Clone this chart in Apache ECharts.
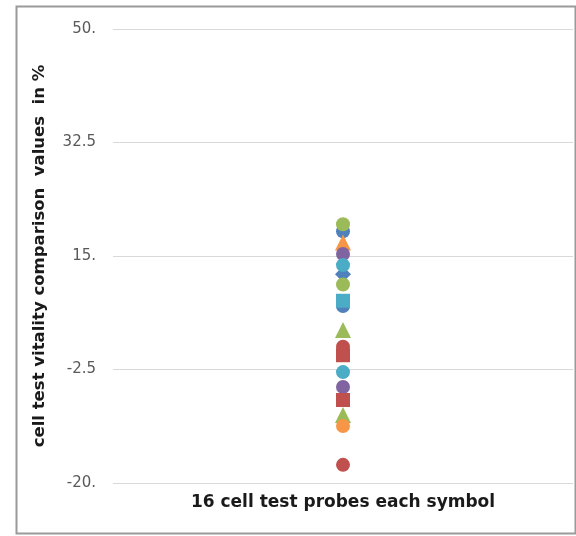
<!DOCTYPE html>
<html>
<head>
<meta charset="utf-8">
<script src="https://cdn.jsdelivr.net/npm/echarts@6/dist/echarts.min.js"></script>
<style>html,body{margin:0;padding:0;background:#fff}#c{width:576px;height:536px}</style>
</head>
<body>
<div id="c"></div>
<script>
// Data
var categories = ['16 cell test probes each symbol'];
var probeValues = [18.8, 19.9, 17.1, 15.3, 12.2, 13.6, 10.6, 7.3, 8.1, 3.6, 1.0, -0.3, -2.9, -5.2, -7.2, -9.5, -11.2, -17.2];
var yTickValues = [-20, -2.5, 15, 32.5, 50];

// Styles (per mark)
var C = {blue:'#4F81BD', red:'#C0504D', green:'#9BBB59', purple:'#8064A2', aqua:'#4BACC6', orange:'#F79646'};
var markerColors = [C.blue, C.green, C.orange, C.purple, C.blue, C.aqua, C.green, C.blue, C.aqua, C.green, C.red, C.red, C.aqua, C.purple, C.red, C.green, C.orange, C.red];
var markerSymbols = ['circle','circle','triangle','circle','diamond','circle','circle','circle','rect','triangle','circle','rect','circle','circle','rect','triangle','circle','circle'];

var data = probeValues.map(function (v, i) {
  var s = markerSymbols[i];
  return {
    value: [categories[0], v],
    symbol: s,
    symbolSize: s === 'diamond' ? [16, 16] : (s === 'triangle' ? [16, 16] : 14),
    itemStyle: {color: markerColors[i], opacity: 1}
  };
});

var chart = echarts.init(document.getElementById('c'));
chart.setOption({
  animation: false,
  backgroundColor: '#fff',
  graphic: [{
    type: 'rect', left: 14, top: 4, silent: true,
    shape: {width: 559, height: 527},
    style: {fill: 'none', stroke: '#9a9a9a', lineWidth: 2}
  }],
  grid: {left: 113, right: 3, top: 29, bottom: 53, containLabel: false},
  xAxis: {
    type: 'category',
    data: categories,
    name: categories[0],
    nameLocation: 'middle',
    nameGap: 11,
    nameTextStyle: {fontFamily: 'DejaVu Sans', fontWeight: 'bold', fontSize: 17, color: '#1a1a1a', verticalAlign: 'top'},
    axisLine: {show: false},
    axisTick: {show: false},
    axisLabel: {show: false},
    splitLine: {show: false}
  },
  yAxis: {
    type: 'value',
    min: -20, max: 50,
    name: 'cell test vitality comparison  values  in %',
    nameLocation: 'middle',
    nameGap: 65,
    nameTextStyle: {fontFamily: 'DejaVu Sans', fontWeight: 'bold', fontSize: 16.5, color: '#1a1a1a'},
    axisLine: {show: false},
    axisTick: {show: false, customValues: yTickValues},
    axisLabel: {
      customValues: yTickValues,
      margin: 17,
      fontFamily: 'DejaVu Sans', fontSize: 15, color: '#595959',
      formatter: function (v) { return Number.isInteger(v) ? v + '.' : String(v); }
    },
    splitLine: {show: true, lineStyle: {color: '#d9d9d9', width: 1}}
  },
  series: [{
    type: 'scatter',
    data: data
  }]
});
</script>
</body>
</html>
